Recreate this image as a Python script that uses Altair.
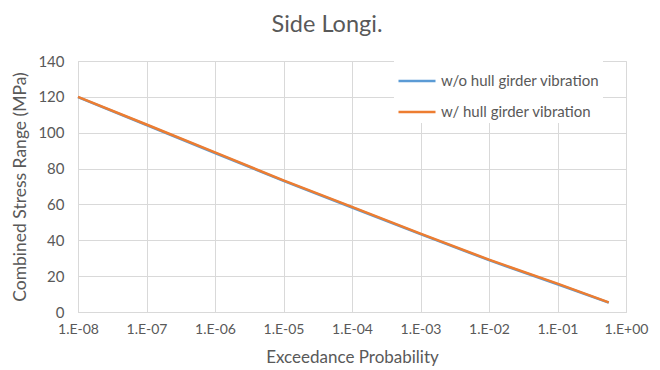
import altair as alt
import pandas as pd

prob = [1e-8, 1e-7, 1e-6, 1e-5, 1e-4, 1e-3, 1e-2, 1e-1, 0.56]
without_vib = [119.8, 104.3, 88.7, 73.1, 58.3, 43.4, 28.9, 15.5, 5.2]
with_vib = [120.0, 104.6, 89.0, 73.4, 58.6, 43.7, 29.2, 15.8, 5.4]
series = ["w/o hull girder vibration", "w/ hull girder vibration"]
x_ticks = [1e-8, 1e-7, 1e-6, 1e-5, 1e-4, 1e-3, 1e-2, 1e-1, 1.0]
y_ticks = [0, 20, 40, 60, 80, 100, 120, 140]

rows = []
for i, p in enumerate(prob):
    rows.append({"p": p, "s": without_vib[i], "series": series[0], "o": 0})
for i, p in enumerate(prob):
    rows.append({"p": p, "s": with_vib[i], "series": series[1], "o": 1})
df = pd.DataFrame(rows)

FONT = "Lato"
GREY = "#595959"
GRID = "#D9D9D9"

exp = "round(log(datum.value)/LN10)"
label_expr = ("'1.E' + (" + exp + " < 0 ? '-' : '+') + (abs(" + exp + ") < 10 ? '0' : '') + abs(" + exp + ")")

chart = alt.Chart(df).mark_line(strokeWidth=2.5).encode(
    x=alt.X("p:Q", scale=alt.Scale(type="log", domain=[1e-8, 1.0], nice=False),
            axis=alt.Axis(values=x_ticks, labelExpr=label_expr, title="Exceedance Probability",
                          grid=True, gridColor=GRID, domainColor=GRID, ticks=False,
                          labelPadding=10, titlePadding=13, labelFontSize=14, titleFontSize=17,
                          labelColor=GREY, titleColor=GREY, labelFont=FONT, titleFont=FONT,
                          titleFontWeight="normal", labelFlush=False)),
    y=alt.Y("s:Q", scale=alt.Scale(domain=[0, 140], nice=False),
            axis=alt.Axis(values=y_ticks, title="Combined Stress Range (MPa)",
                          grid=True, gridColor=GRID, domainColor=GRID, ticks=False,
                          labelPadding=14, titlePadding=8, labelFontSize=15, titleFontSize=17.5,
                          labelColor=GREY, titleColor=GREY, labelFont=FONT, titleFont=FONT,
                          titleFontWeight="normal")),
    color=alt.Color("series:N", scale=alt.Scale(domain=series, range=["#5B9BD5", "#ED7D31"]),
                    legend=alt.Legend(title=None, orient="none", legendX=316, legendY=-3,
                                      symbolType="stroke", symbolSize=1369, symbolStrokeWidth=2.5,
                                      labelFontSize=15, labelColor=GREY, labelFont=FONT,
                                      fillColor="white", padding=3, rowPadding=3,
                                      labelOffset=4, labelLimit=300)),
    order=alt.Order("o:Q"),
    detail="series:N",
).properties(
    width=548, height=251,
    padding={"left": 70, "top": 53, "right": 25, "bottom": 55},
    autosize=alt.AutoSizeParams(type="none"),
    title=alt.Title("Side Longi.", fontSize=23.5, font=FONT, color=GREY, fontWeight="normal",
                    offset=18, anchor="middle", dx=-25),
).configure_view(stroke=GRID).configure(background="white")

chart.save("out.html", embed_options={"renderer": "svg", "actions": False})
